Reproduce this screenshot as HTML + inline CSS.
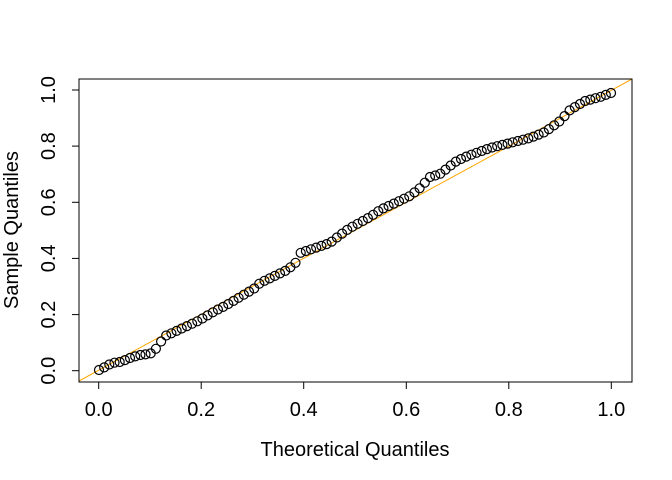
<!DOCTYPE html>
<html><head><meta charset="utf-8"><style>
html,body{margin:0;padding:0;background:#fff;}
svg{display:block;font-family:"Liberation Sans",Arial,sans-serif;}
</style></head><body>
<svg id="s" width="672" height="480" viewBox="0 0 672 480" xmlns="http://www.w3.org/2000/svg">
<rect width="672" height="480" fill="#fff"/>
<defs><clipPath id="c"><rect x="79" y="79" width="553" height="303"/></clipPath></defs>
<line x1="79" y1="381" x2="632" y2="79" stroke="#FFA500" stroke-width="1" clip-path="url(#c)"/>
<g id="pts" fill="none" stroke="#000" stroke-width="1.2"></g>
<rect x="79" y="79" width="553" height="303" fill="none" stroke="#000" stroke-width="1"/>
<g stroke="#000" stroke-width="1">
<line x1="98.7" y1="382" x2="611.3" y2="382"/>
<line x1="98.7" y1="382" x2="98.7" y2="389"/>
<line x1="201.2" y1="382" x2="201.2" y2="389"/>
<line x1="303.7" y1="382" x2="303.7" y2="389"/>
<line x1="406.3" y1="382" x2="406.3" y2="389"/>
<line x1="508.8" y1="382" x2="508.8" y2="389"/>
<line x1="611.3" y1="382" x2="611.3" y2="389"/>
<line x1="79" y1="90" x2="79" y2="370.7"/>
<line x1="72" y1="370.7" x2="79" y2="370.7"/>
<line x1="72" y1="314.6" x2="79" y2="314.6"/>
<line x1="72" y1="258.4" x2="79" y2="258.4"/>
<line x1="72" y1="202.3" x2="79" y2="202.3"/>
<line x1="72" y1="146.1" x2="79" y2="146.1"/>
<line x1="72" y1="90" x2="79" y2="90"/>
</g>
<g font-size="20" text-anchor="middle" fill="#000">
<text x="98.7" y="416">0.0</text>
<text x="201.2" y="416">0.2</text>
<text x="303.7" y="416">0.4</text>
<text x="406.3" y="416">0.6</text>
<text x="508.8" y="416">0.8</text>
<text x="611.3" y="416">1.0</text>
<text transform="translate(55,370.7) rotate(-90)">0.0</text>
<text transform="translate(55,314.6) rotate(-90)">0.2</text>
<text transform="translate(55,258.4) rotate(-90)">0.4</text>
<text transform="translate(55,202.3) rotate(-90)">0.6</text>
<text transform="translate(55,146.1) rotate(-90)">0.8</text>
<text transform="translate(55,90) rotate(-90)">1.0</text>
<text x="355" y="456">Theoretical Quantiles</text>
<text transform="translate(18,230) rotate(-90)">Sample Quantiles</text>
</g>
</svg>
<script>
var k=[[99,370],[105,367],[112,363],[120,362],[130,358],[140,355],[150,354],[155,350],[160,343],[165,336],[172,333],[185,327],[200,320],[215,311],[225,306],[240,297],[255,288],[260,283],[285,271],[295,264],[300,253],[315,248],[330,243],[340,235],[350,228],[370,217],[380,210],[395,203],[410,196],[420,188],[430,177],[440,174],[455,162],[465,157],[490,148],[510,143],[530,138],[545,132],[560,121],[570,110],[585,101],[600,97],[611,93]];
function f(x){for(var i=1;i<k.length;i++){if(x<=k[i][0]){var a=k[i-1],b=k[i];return a[1]+(b[1]-a[1])*(x-a[0])/(b[0]-a[0]);}}return k[k.length-1][1];}
var g=document.getElementById('pts'),ns='http://www.w3.org/2000/svg';
for(var i=0;i<100;i++){var x=99+512*i/99;var c=document.createElementNS(ns,'circle');c.setAttribute('cx',x.toFixed(1));c.setAttribute('cy',f(x).toFixed(1));c.setAttribute('r','4.5');g.appendChild(c);}
</script>
</body></html>
